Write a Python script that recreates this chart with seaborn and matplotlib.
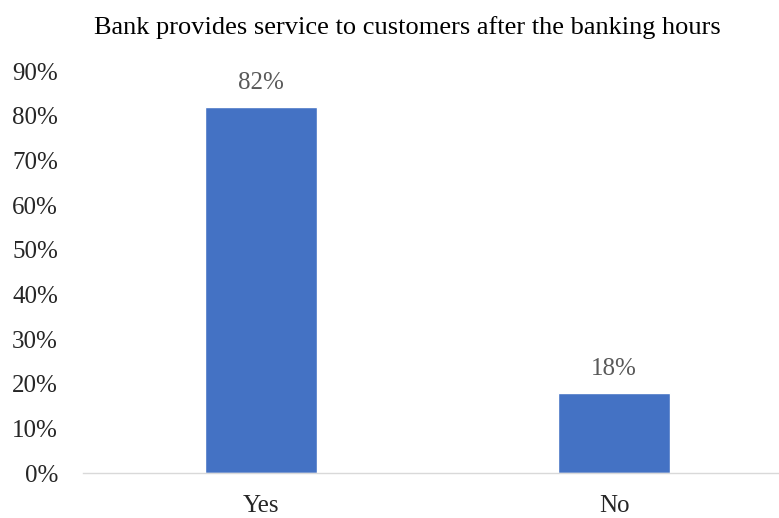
import matplotlib
matplotlib.use("Agg")
import matplotlib.pyplot as plt
import seaborn as sns
import pandas as pd

categories = ["Yes", "No"]
values = [82, 18]
yticks = [0, 10, 20, 30, 40, 50, 60, 70, 80, 90]
title = "Bank provides service to customers after the banking hours"

sns.set_theme(style="white")
plt.rcParams['font.family'] = ['Liberation Serif', 'DejaVu Serif']

df = pd.DataFrame({"cat": categories, "val": values})
fig, ax = plt.subplots(figsize=(7.79, 5.18), dpi=100)
fig.subplots_adjust(left=83/779, right=1.0, top=1 - 71/518, bottom=1 - 473/518)
sns.barplot(data=df, x="cat", y="val", color="#4472C4", width=0.317, ax=ax, saturation=1)
ax.set_xlim(-0.504, 1.467)
ax.set_ylim(0, 90)
ax.set_yticks(yticks)
ax.set_yticklabels([f"{t}%" for t in yticks], fontsize=18)
ax.tick_params(axis='x', labelsize=18, length=0, pad=16)
ax.tick_params(axis='y', length=0, pad=18)
ax.set_xlabel("")
ax.set_ylabel("")
for s in ["top", "right", "left"]:
    ax.spines[s].set_visible(False)
ax.spines["bottom"].set_color("#D9D9D9")
ax.spines["bottom"].set_linewidth(1)
for i, v in enumerate(values):
    ax.text(i, v + 4.0, f"{v}%", ha="center", va="baseline", fontsize=18, color="#595959")
fig.text(407/779, 1 - 28/518, title, ha="center", va="center", fontsize=19, color="black")
fig.savefig("out.png", dpi=100)
